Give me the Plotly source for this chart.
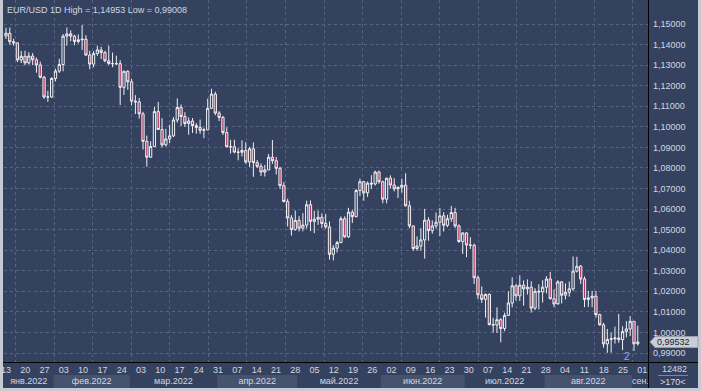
import plotly.graph_objects as go
import pandas as pd

# ---------------- data (EUR/USD daily) ----------------
dates = pd.bdate_range("2022-01-12", "2022-09-02")

opens = [
    # Jan
    1.1368, 1.1441, 1.1455, 1.1414, 1.1408, 1.1325, 1.1343, 1.1311, 1.1344, 1.1326, 1.1301, 1.1241, 1.1145, 1.1145,
    # Feb
    1.1235, 1.1271, 1.1303, 1.1441, 1.1452, 1.1441, 1.1415, 1.1423, 1.1426, 1.1349, 1.1305, 1.1356, 1.1374, 1.1361,
    1.1321, 1.1308, 1.1307, 1.1307, 1.1192, 1.1270,
    # Mar
    1.1219, 1.1125, 1.1121, 1.1063, 1.0929, 1.0852, 1.0904, 1.1074, 1.0987, 1.0912, 1.0941, 1.0956, 1.1033, 1.1094,
    1.1050, 1.1016, 1.1028, 1.1006, 1.0997, 1.0983, 1.0985, 1.1090, 1.1159,
    # Apr
    1.1067, 1.1046, 1.0972, 1.0903, 1.0903, 1.0877, 1.0876, 1.0885, 1.0829, 1.0893, 1.0826, 1.0808, 1.0780, 1.0790,
    1.0852, 1.0835, 1.0798, 1.0714, 1.0637, 1.0557, 1.0500,
    # May
    1.0545, 1.0507, 1.0522, 1.0621, 1.0540, 1.0551, 1.0560, 1.0530, 1.0513, 1.0380, 1.0410, 1.0437, 1.0553, 1.0465,
    1.0585, 1.0563, 1.0690, 1.0733, 1.0679, 1.0726, 1.0722, 1.0780,
    # Jun
    1.0733, 1.0648, 1.0750, 1.0717, 1.0698, 1.0706, 1.0716, 1.0616, 1.0518, 1.0408, 1.0420, 1.0450, 1.0546, 1.0495,
    1.0518, 1.0536, 1.0567, 1.0521, 1.0553, 1.0583, 1.0518, 1.0442,
    # Jul
    1.0484, 1.0425, 1.0424, 1.0266, 1.0183, 1.0161, 1.0185, 1.0038, 1.0036, 1.0062, 1.0019, 1.0083, 1.0143, 1.0227,
    1.0178, 1.0230, 1.0212, 1.0220, 1.0118, 1.0200, 1.0197,
    # Aug
    1.0220, 1.0260, 1.0164, 1.0138, 1.0246, 1.0181, 1.0195, 1.0212, 1.0298, 1.0322, 1.0260, 1.0160, 1.0168, 1.0176,
    1.0087, 1.0037, 0.9944, 0.9966, 0.9969, 0.9973, 0.9965, 1.0004, 1.0017,
    # Sep
    1.0054, 0.9945,
]
highs = [
    1.1445, 1.1482, 1.1483, 1.1428, 1.1410, 1.1369, 1.1370, 1.1363, 1.1359, 1.1337, 1.1317, 1.1248, 1.1175, 1.1241,
    1.1282, 1.1331, 1.1451, 1.1483, 1.1469, 1.1447, 1.1449, 1.14953, 1.1445, 1.1370, 1.1368, 1.1395, 1.1390, 1.1370,
    1.1395, 1.1361, 1.1346, 1.1324, 1.1274, 1.1275,
    1.1233, 1.1154, 1.1140, 1.1073, 1.0957, 1.0930, 1.1096, 1.1121, 1.1042, 1.0990, 1.1010, 1.1047, 1.1138, 1.1109,
    1.1071, 1.1046, 1.1043, 1.1018, 1.1035, 1.0996, 1.1137, 1.1185, 1.1171,
    1.1076, 1.1053, 1.0998, 1.0937, 1.0937, 1.0896, 1.0934, 1.0925, 1.0903, 1.0924, 1.0838, 1.0822, 1.0815, 1.0868,
    1.0936, 1.0853, 1.0805, 1.0731, 1.0650, 1.0570, 1.0593,
    1.0565, 1.0580, 1.0641, 1.0642, 1.0592, 1.0593, 1.0580, 1.0577, 1.0540, 1.0425, 1.0445, 1.0564, 1.0565, 1.0606,
    1.0595, 1.0697, 1.0748, 1.0736, 1.0734, 1.0765, 1.0787, 1.0787,
    1.0738, 1.0753, 1.0764, 1.0750, 1.0710, 1.0748, 1.0774, 1.0640, 1.0520, 1.0467, 1.0507, 1.0601, 1.0560, 1.0545,
    1.0583, 1.0605, 1.0585, 1.0572, 1.0615, 1.0606, 1.0526, 1.0486,
    1.0487, 1.0463, 1.0432, 1.0277, 1.0224, 1.0189, 1.0190, 1.0071, 1.0122, 1.0069, 1.0096, 1.0200, 1.0268, 1.0234,
    1.0278, 1.0253, 1.0258, 1.0249, 1.0215, 1.0234, 1.0254,
    1.0274, 1.0294, 1.0210, 1.0254, 1.0250, 1.0238, 1.0248, 1.0369, 1.0368, 1.0328, 1.0272, 1.0202, 1.0202, 1.0202,
    1.0091, 1.0047, 1.0017, 0.9999, 1.0028, 1.0090, 1.0030, 1.0055, 1.0080,
    1.0055, 1.0033,
]
lows = [
    1.1356, 1.1427, 1.1399, 1.1395, 1.1315, 1.1310, 1.1300, 1.1303, 1.1300, 1.1263, 1.1235, 1.1136, 1.1121, 1.1140,
    1.1221, 1.1262, 1.1270, 1.1395, 1.1416, 1.1397, 1.1405, 1.1374, 1.1345, 1.1280, 1.1290, 1.1345, 1.1330, 1.1314,
    1.1300, 1.1290, 1.1300, 1.1106, 1.1155, 1.1180,
    1.1105, 1.1062, 1.1040, 1.0890, 1.0806, 1.0850, 1.0902, 1.0985, 1.0900, 1.0904, 1.0920, 1.0950, 1.1020, 1.1004,
    1.1000, 1.0961, 1.0970, 1.0967, 1.0966, 1.0945, 1.0985, 1.1088, 1.1056,
    1.1028, 1.0960, 1.0900, 1.0870, 1.0871, 1.0837, 1.0856, 1.0820, 1.0804, 1.0757, 1.0800, 1.0761, 1.0758, 1.0790,
    1.0820, 1.0768, 1.0697, 1.0632, 1.0515, 1.0471, 1.0495,
    1.0491, 1.0492, 1.0505, 1.0493, 1.0483, 1.0523, 1.0508, 1.0504, 1.0354, 1.0350, 1.0389, 1.0434, 1.0460, 1.0460,
    1.0532, 1.0560, 1.0663, 1.0641, 1.0659, 1.0698, 1.0715, 1.0723,
    1.0628, 1.0628, 1.0700, 1.0686, 1.0654, 1.0680, 1.0612, 1.0507, 1.0397, 1.0397, 1.0398, 1.0359, 1.0446, 1.0480,
    1.0505, 1.0469, 1.0491, 1.0512, 1.0538, 1.0508, 1.0436, 1.0382,
    1.0366, 1.0406, 1.0236, 1.0162, 1.0144, 1.0072, 1.0034, 0.9999, 0.9998, 0.9952, 1.0006, 1.0080, 1.0122, 1.0155,
    1.0153, 1.0130, 1.0184, 1.0096, 1.0109, 1.0112, 1.0145,
    1.0190, 1.0160, 1.0123, 1.0143, 1.0141, 1.0161, 1.0174, 1.0202, 1.0291, 1.0236, 1.0123, 1.0124, 1.0123, 1.0072,
    1.0033, 0.9926, 0.99008, 0.9902, 0.9946, 0.9950, 0.9914, 0.9976, 0.9982,
    0.9910, 0.9936,
]
closes = [
    1.1441, 1.1455, 1.1414, 1.1408, 1.1325, 1.1343, 1.1311, 1.1344, 1.1326, 1.1301, 1.1241, 1.1145, 1.1145, 1.1235,
    1.1271, 1.1303, 1.1441, 1.1452, 1.1441, 1.1415, 1.1423, 1.1426, 1.1349, 1.1305, 1.1356, 1.1374, 1.1361, 1.1321,
    1.1308, 1.1307, 1.1307, 1.1192, 1.1270, 1.1219,
    1.1125, 1.1121, 1.1063, 1.0929, 1.0852, 1.0904, 1.1074, 1.0987, 1.0912, 1.0941, 1.0956, 1.1033, 1.1094, 1.1050,
    1.1016, 1.1028, 1.1006, 1.0997, 1.0983, 1.0985, 1.1090, 1.1159, 1.1067,
    1.1046, 1.0972, 1.0903, 1.0903, 1.0877, 1.0876, 1.0885, 1.0829, 1.0893, 1.0826, 1.0808, 1.0780, 1.0790, 1.0852,
    1.0835, 1.0798, 1.0714, 1.0637, 1.0557, 1.0500, 1.0545,
    1.0507, 1.0522, 1.0621, 1.0540, 1.0551, 1.0560, 1.0530, 1.0513, 1.0380, 1.0410, 1.0437, 1.0553, 1.0465, 1.0585,
    1.0563, 1.0690, 1.0733, 1.0679, 1.0726, 1.0722, 1.0780, 1.0733,
    1.0648, 1.0750, 1.0717, 1.0698, 1.0706, 1.0716, 1.0616, 1.0518, 1.0408, 1.0420, 1.0450, 1.0546, 1.0495, 1.0518,
    1.0536, 1.0567, 1.0521, 1.0553, 1.0583, 1.0518, 1.0442, 1.0484,
    1.0425, 1.0424, 1.0266, 1.0183, 1.0161, 1.0185, 1.0038, 1.0036, 1.0062, 1.0019, 1.0083, 1.0143, 1.0227, 1.0178,
    1.0230, 1.0212, 1.0220, 1.0118, 1.0200, 1.0197, 1.0220,
    1.0260, 1.0164, 1.0138, 1.0246, 1.0181, 1.0195, 1.0212, 1.0298, 1.0322, 1.0260, 1.0160, 1.0168, 1.0176, 1.0087,
    1.0037, 0.9944, 0.9966, 0.9969, 0.9973, 0.9965, 1.0004, 1.0017, 1.0054,
    0.9945, 0.99532,
]
assert len(dates) == len(opens) == len(highs) == len(lows) == len(closes)

price_ticks = [0.99 + 0.01 * k for k in range(17)]
month_names = ["янв.2022", "фев.2022", "мар.2022", "апр.2022", "май.2022",
               "июн.2022", "июл.2022", "авг.2022", "сен.2022"]
title_text = "EUR/USD 1D High = 1,14953 Low = 0,99008"
counter_top = "12482"
counter_bottom = ">170<"
marker_text = "2"

# ---------------- layout geometry ----------------
W, H = 701, 391
ML, MR, MT, MB = 4, 53, 0, 3
PW, PH = W - ML - MR, H - MT - MB
MAIN_BOTTOM = 362


def px_x(px):
    return (px - ML) / PW


def px_y(py):
    return (H - MB - py) / PH


BG = "#35425f"
GRID = "#566481"
TXT = "#d2d7e0"
FRAME = "#c6cad2"
BAND = "#45536f"
FONT = "Liberation Sans, Arial, sans-serif"
FS = 9

idx = list(range(len(dates)))
BAR_PX = 3.806
X0_PX = 2.19
x_range = [(ML - X0_PX) / BAR_PX, (W - MR - X0_PX) / BAR_PX]

per_px = 0.16 / 329.0
y_range = [0.99 - (MAIN_BOTTOM - 353) * per_px, 1.15 + 24 * per_px]

# the time scale of the labels/grid runs slightly wider than the bar spacing
STRETCH = 1.0131
thu = [i for i, d in enumerate(dates) if d.weekday() == 3]
thu_pos = [thu[0] + (i - thu[0]) * STRETCH for i in thu]
thu_text = [f"{dates[i].day:02d}" for i in thu]
# vertical grid every two weeks, half a week after a labelled Thursday
vgrid = [thu[0] + (10 * k + 2.5) * STRETCH for k in range(17)]

# month bands
month_start = [i for i, d in enumerate(dates) if i == 0 or d.month != dates[i - 1].month]
bands = []
for k, s in enumerate(month_start):
    e = month_start[k + 1] if k + 1 < len(month_start) else len(dates) + 5
    bands.append((max(s - 0.5, x_range[0]), min(e - 0.5, x_range[1])))

fig = go.Figure()
fig.add_trace(go.Candlestick(
    x=idx, open=opens, high=highs, low=lows, close=closes,
    increasing=dict(line=dict(color="#eef0f4", width=1), fillcolor=BG),
    decreasing=dict(line=dict(color="#eef0f4", width=1), fillcolor="#b3375c"),
    whiskerwidth=0, showlegend=False, hoverinfo="skip",
))

centers, positions = [], []
for (a, b) in bands:
    if (b - a) * BAR_PX > 45:
        centers.append((a + b) / 2)
        positions.append("middle center")
    else:
        centers.append(a)
        positions.append("middle right")
fig.add_trace(go.Scatter(
    x=centers, y=[0.25] * len(centers), text=month_names[:len(centers)], mode="text",
    textposition=positions, textfont=dict(family=FONT, size=FS, color=TXT),
    xaxis="x2", yaxis="y2", cliponaxis=True, showlegend=False, hoverinfo="skip",
))

shapes = []
for k, (a, b) in enumerate(bands):
    if k % 2 == 1:
        shapes.append(dict(type="rect", xref="x2", yref="y2", x0=a, x1=b, y0=0, y1=0.5,
                           fillcolor=BAND, line=dict(width=0), layer="below"))

# frame
for (x0, x1, y0, y1) in [(0, 3, 0, H), (698, W, 0, H), (0, W, 388, H)]:
    shapes.append(dict(type="rect", xref="paper", yref="paper",
                       x0=px_x(x0), x1=px_x(x1), y0=px_y(y1), y1=px_y(y0),
                       fillcolor=FRAME, line=dict(width=0), layer="above"))
# black separators
shapes.append(dict(type="line", xref="paper", yref="paper", x0=px_x(3), x1=px_x(698),
                   y0=px_y(MAIN_BOTTOM + 0.5), y1=px_y(MAIN_BOTTOM + 0.5),
                   line=dict(color="#000000", width=1), layer="above"))
shapes.append(dict(type="line", xref="paper", yref="paper", x0=px_x(648.5), x1=px_x(648.5),
                   y0=px_y(388), y1=px_y(0), line=dict(color="#000000", width=1), layer="above"))
# underline between counters
shapes.append(dict(type="line", xref="paper", yref="paper", x0=px_x(658), x1=px_x(688),
                   y0=px_y(375.5), y1=px_y(375.5), line=dict(color="#7d879a", width=1), layer="above"))
# last price tag
last = closes[-1]
hh = 5.5 * per_px
shapes.append(dict(type="path", xref="paper", yref="y",
                   path=f"M {px_x(650)} {last} L {px_x(655)} {last + hh} L {px_x(698)} {last + hh} "
                        f"L {px_x(698)} {last - hh} L {px_x(655)} {last - hh} Z",
                   fillcolor="#c9cdd6", line=dict(color="#9aa0ac", width=1), layer="above"))

annotations = [
    dict(text=title_text, xref="paper", yref="paper", x=px_x(5), y=px_y(9.5),
         xanchor="left", yanchor="middle", showarrow=False,
         font=dict(family=FONT, size=FS, color=TXT)),
    dict(text=counter_top, xref="paper", yref="paper", x=px_x(674), y=px_y(368.5),
         xanchor="center", yanchor="middle", showarrow=False,
         font=dict(family=FONT, size=FS, color=TXT)),
    dict(text=counter_bottom, xref="paper", yref="paper", x=px_x(673), y=px_y(382),
         xanchor="center", yanchor="middle", showarrow=False,
         font=dict(family=FONT, size=FS, color=TXT)),
    dict(text=marker_text, xref="paper", yref="paper", x=px_x(627), y=px_y(356),
         xanchor="center", yanchor="middle", showarrow=False,
         font=dict(family=FONT, size=10, color="#8eb2e6")),
    dict(text=f"{last:.5f}".replace(".", ","), xref="paper", yref="y", x=px_x(655), y=last,
         xanchor="left", yanchor="middle", showarrow=False,
         font=dict(family=FONT, size=FS, color="#1d2433")),
]

fig.update_layout(
    width=W, height=H,
    margin=dict(l=ML, r=MR, t=MT, b=MB, pad=0),
    paper_bgcolor=BG, plot_bgcolor=BG,
    separators=", ",
    showlegend=False,
    font=dict(family=FONT, size=FS, color=TXT),
    xaxis=dict(
        domain=[0, 1], anchor="y", range=x_range, rangeslider=dict(visible=False),
        tickmode="array", tickvals=thu_pos, ticktext=thu_text, ticks="", showline=False,
        showgrid=False, zeroline=False, tickfont=dict(family=FONT, size=FS, color=TXT),
        ticklabelstandoff=1, ticklabeloverflow="allow",
        minor=dict(tickmode="array", tickvals=vgrid, showgrid=True, gridcolor=GRID,
                   griddash="3px,3px", gridwidth=1, ticks=""),
    ),
    yaxis=dict(
        domain=[px_y(MAIN_BOTTOM), 1], anchor="x", range=y_range, side="right",
        tickmode="array", tickvals=price_ticks, tickformat=".5f", ticks="",
        showgrid=True, gridcolor=GRID, griddash="3px,3px", gridwidth=1, zeroline=False,
        showline=False, tickfont=dict(family=FONT, size=FS, color=TXT), ticklabelstandoff=4,
    ),
    xaxis2=dict(domain=[0, 1], anchor="y2", matches="x", showticklabels=False,
                showgrid=False, zeroline=False, ticks="", rangeslider=dict(visible=False)),
    yaxis2=dict(domain=[0, px_y(MAIN_BOTTOM)], anchor="x2", range=[0, 1], visible=False,
                showgrid=False, zeroline=False),
    shapes=shapes,
    annotations=annotations,
    boxgap=0.15,
)

fig.write_html("out.html", config={"displayModeBar": False},
               post_script="document.body.style.margin='0';document.body.style.overflow='hidden';")
